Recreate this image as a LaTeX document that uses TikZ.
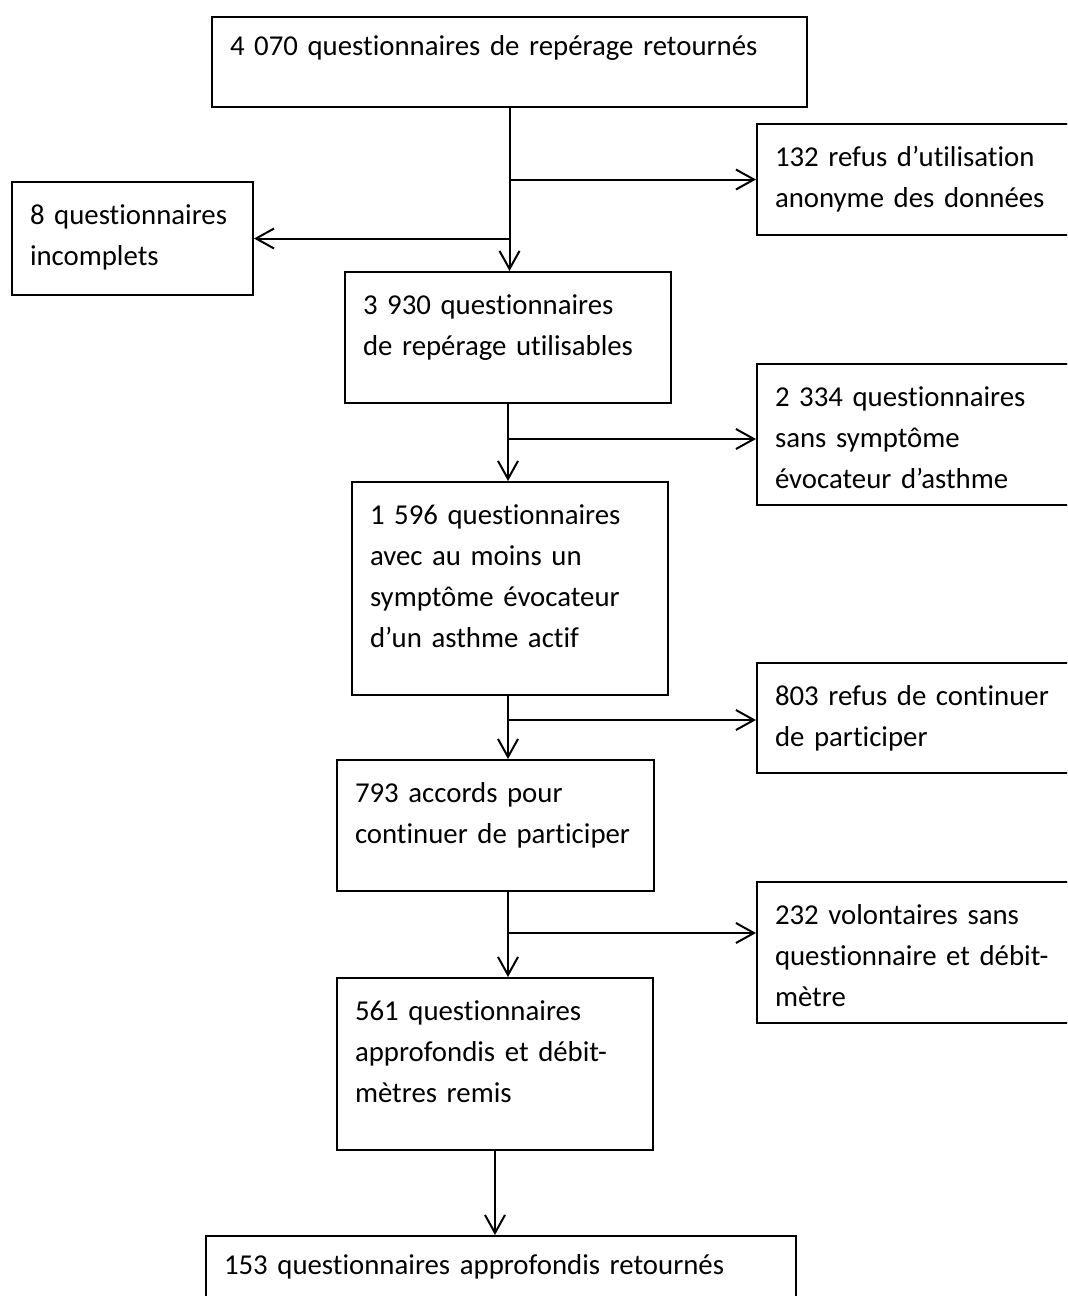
\documentclass[tikz,border=0pt]{standalone}
\usepackage{fontspec}
\setmainfont{Carlito}[Ligatures=NoCommon]
\usetikzlibrary{arrows.meta}
\hyphenpenalty=10000

\begin{document}
\begin{tikzpicture}[
  x=0.5pt, y=-0.5pt,
  stage/.style={draw,line width=1pt,anchor=north west,align=left,inner xsep=9pt,inner ysep=0pt,text height=21pt,font=\fontsize{14.4pt}{20.5pt}\selectfont},
  flow/.style={line width=1pt,-{Straight Barb[length=9pt,width=10pt]}}
]
\useasboundingbox (0,0) rectangle (1067,1296);
\clip (0,0) rectangle (1067,1296);

\node[stage,text width=279.5pt,text height=19pt,text depth=26pt] (ret) at (211,16) {4 070 questionnaires de repérage retournés};
\node[stage,text width=149pt,text depth=34.5pt] (anon) at (756,123) {132 refus d’utilisation\\anonyme des données};
\node[stage,text width=102.5pt,text depth=35.5pt] (inc) at (11,181) {8 questionnaires\\incomplets};
\node[stage,text width=145pt,text depth=44.5pt] (util) at (344,271) {3 930 questionnaires\\de repérage utilisables};
\node[stage,text width=149pt,text depth=49.5pt] (sans) at (756,363) {2 334 questionnaires\\sans symptôme\\évocateur d’asthme};
\node[stage,text width=140pt,text depth=85.5pt] (avec) at (351,481) {1 596 questionnaires\\avec au moins un\\symptôme évocateur\\d’un asthme actif};
\node[stage,text width=149pt,text depth=34pt] (stop) at (756,662) {803 refus de continuer\\de participer};
\node[stage,text width=140.5pt,text depth=44.5pt] (acc) at (336,759) {793 accords pour\\continuer de participer};
\node[stage,text width=149pt,text depth=49.5pt] (vol) at (756,881) {232 volontaires sans\\questionnaire et débit-\\mètre};
\node[stage,text width=140pt,text depth=65pt] (remis) at (336,977) {561 questionnaires\\approfondis et débit-\\mètres remis};
\node[stage,text width=277pt,text height=19pt,text depth=40pt] (fin) at (205,1235) {153 questionnaires approfondis retournés};

\coordinate (j2) at (508,439);
\coordinate (j3) at (508,720);
\coordinate (j4) at (508,933);

\draw[flow] (ret.south) -- (ret.south |- util.north);
\draw[flow] (ret.south |- anon.west) -- (anon.west);
\draw[flow] (ret.south |- inc.east) -- (inc.east);
\draw[flow] (util.south -| j2) -- (j2 |- avec.north);
\draw[flow] (j2) -- (j2 -| sans.west);
\draw[flow] (avec.south -| j3) -- (j3 |- acc.north);
\draw[flow] (j3) -- (j3 -| stop.west);
\draw[flow] (acc.south -| j4) -- (j4 |- remis.north);
\draw[flow] (j4) -- (j4 -| vol.west);
\draw[flow] (remis.south) -- (remis.south |- fin.north);
\end{tikzpicture}
\end{document}
